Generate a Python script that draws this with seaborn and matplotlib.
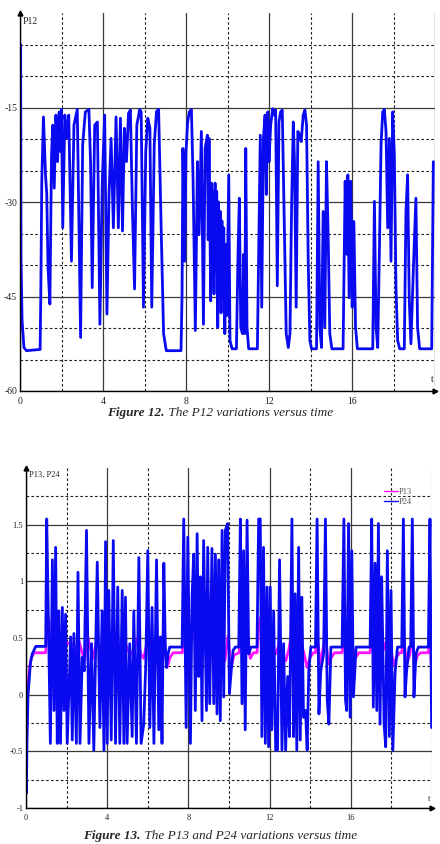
import numpy as np
import pandas as pd
import matplotlib
matplotlib.use("Agg")
import matplotlib.pyplot as plt
import seaborn as sns
from matplotlib.ticker import FixedLocator, FixedFormatter, NullFormatter
from matplotlib.lines import Line2D

sns.set_theme(style="white")
plt.rcParams['font.family'] = ['Liberation Serif', 'DejaVu Serif']
plt.rcParams['axes.unicode_minus'] = False

# ---------------- data ----------------
# P12 versus time: (t, value)
P12_PTS = [
    (0.0, -5), (0.03, -5), (0.05, -39.4), (0.10, -48.8), (0.19, -53.1), (0.31, -53.6),
    (0.97, -53.4), (1.00, -45.4), (1.05, -26.7), (1.13, -16.5), (1.23, -25.7), (1.29, -28.8),
    (1.35, -40.4), (1.44, -46.2), (1.52, -22.5), (1.58, -17.8), (1.65, -27.8), (1.73, -16.2),
    (1.81, -23.6), (1.89, -15.7), (1.95, -22.0), (2.00, -15.3), (2.06, -34.1), (2.16, -16.2),
    (2.26, -19.9), (2.35, -16.2), (2.48, -39.4), (2.60, -17.8), (2.76, -15.3), (2.82, -28.8),
    (2.92, -51.5), (3.02, -20.9), (3.15, -15.7), (3.32, -15.3), (3.40, -23.6), (3.48, -43.6),
    (3.60, -17.8), (3.73, -17.3), (3.85, -49.4), (3.97, -26.2), (4.08, -16.2), (4.19, -47.8),
    (4.29, -28.8), (4.39, -19.9), (4.50, -34.1), (4.63, -16.5), (4.74, -34.1), (4.84, -16.7),
    (4.94, -34.6), (5.03, -18.3), (5.13, -23.6), (5.23, -15.9), (5.32, -15.4), (5.42, -31.5),
    (5.52, -43.8), (5.63, -17.8), (5.77, -15.3), (5.84, -15.7), (5.95, -46.7), (6.06, -22.0),
    (6.16, -16.7), (6.26, -18.3), (6.35, -46.7), (6.47, -20.9), (6.58, -15.6), (6.68, -15.3),
    (6.81, -35.2), (6.92, -50.9), (7.05, -53.6), (7.76, -53.6), (7.81, -44.6), (7.85, -21.5),
    (7.94, -39.4), (8.00, -22.0), (8.08, -17.3), (8.16, -15.7), (8.26, -15.3), (8.34, -26.2),
    (8.45, -50.4), (8.55, -23.6), (8.63, -35.2), (8.74, -18.8), (8.84, -49.4), (8.92, -21.5),
    (9.03, -19.4), (9.07, -36.0), (9.11, -19.9), (9.19, -45.7), (9.23, -27.0), (9.27, -40.0),
    (9.31, -28.3), (9.35, -44.6), (9.40, -27.0), (9.44, -41.0), (9.48, -28.3), (9.53, -49.9),
    (9.57, -30.0), (9.61, -44.0), (9.65, -31.5), (9.69, -47.6), (9.73, -33.0), (9.77, -45.1),
    (9.82, -34.1), (9.87, -50.9), (9.92, -36.7), (9.97, -48.0), (10.01, -38.0), (10.06, -25.7),
    (10.12, -52.0), (10.22, -53.3), (10.43, -53.3), (10.51, -37.8),
    (10.57, -29.4), (10.64, -49.9), (10.72, -50.9), (10.78, -38.3), (10.83, -50.9), (10.88, -21.5),
    (10.94, -49.9), (11.02, -53.3), (11.44, -53.3), (11.52, -34.1), (11.58, -19.4), (11.65, -46.7),
    (11.73, -19.9), (11.81, -16.2), (11.87, -28.8), (11.94, -15.7), (12.00, -23.6), (12.08, -17.8),
    (12.18, -15.2), (12.26, -16.2), (12.32, -15.4), (12.40, -43.3), (12.48, -17.3), (12.56, -15.7),
    (12.64, -15.4), (12.74, -33.6), (12.83, -50.9), (12.93, -53.1), (13.01, -50.9), (13.09, -30.4),
    (13.17, -17.3), (13.23, -23.6), (13.31, -46.7), (13.39, -18.8), (13.47, -19.4), (13.55, -20.4),
    (13.65, -16.2), (13.73, -15.4), (13.81, -17.8), (13.89, -39.4), (13.97, -52.0), (14.05, -53.3),
    (14.29, -53.3), (14.37, -23.6), (14.45, -49.9), (14.53, -53.1), (14.61, -31.5), (14.69, -49.9),
    (14.77, -23.6), (14.85, -35.2), (14.93, -50.9), (15.03, -53.3), (15.57, -53.3), (15.67, -26.7),
    (15.75, -38.3), (15.80, -25.7), (15.86, -45.2), (15.94, -26.7), (16.01, -46.7), (16.09, -33.1),
    (16.17, -49.9), (16.26, -53.3), (17.00, -53.3), (17.08, -29.9), (17.16, -49.9), (17.24, -53.1),
    (17.32, -37.8), (17.40, -20.9), (17.48, -15.7), (17.56, -15.3), (17.64, -18.8), (17.72, -34.1),
    (17.80, -19.9), (17.88, -39.4), (17.96, -15.7), (18.04, -22.5), (18.12, -43.6), (18.20, -52.0),
    (18.30, -53.3), (18.52, -53.3), (18.60, -31.5), (18.68, -25.7), (18.76, -45.7), (18.84, -52.5),
    (18.97, -39.4), (19.08, -29.4), (19.16, -49.9), (19.26, -53.3), (19.84, -53.3), (19.92, -23.6),
]

# P24 versus time: (t, value)
P24_PTS = [
    (0.0, -0.3), (0.02, -0.87), (0.05, -0.4), (0.10, 0.0), (0.15, 0.12), (0.22, 0.28),
    (0.31, 0.36), (0.48, 0.426), (0.97, 0.426), (1.02, 1.55), (1.11, 0.6), (1.20, -0.43),
    (1.30, 1.19), (1.38, -0.14), (1.46, 1.30), (1.54, -0.43), (1.62, 0.74), (1.70, -0.43),
    (1.79, 0.77), (1.87, -0.14), (1.95, 0.71), (2.03, -0.43), (2.20, 0.51), (2.28, -0.40),
    (2.36, 0.54), (2.48, -0.43), (2.56, 1.08), (2.66, -0.43), (2.77, 0.33), (2.87, 0.21),
    (2.98, 1.45), (3.10, -0.43), (3.23, 0.45), (3.34, -0.49), (3.51, 1.17), (3.64, -0.29),
    (3.75, 0.74), (3.84, -0.49), (3.92, 1.35), (4.00, -0.43), (4.08, 0.92), (4.20, -0.40),
    (4.30, 1.36), (4.41, -0.43), (4.52, 0.95), (4.62, -0.43), (4.74, 0.92), (4.82, -0.43),
    (4.90, 0.86), (4.98, -0.43), (5.11, 0.45), (5.23, -0.37), (5.31, 0.74), (5.44, -0.43),
    (5.56, 1.21), (5.67, -0.43), (5.80, -0.26), (5.90, 0.27), (6.00, 1.27), (6.10, -0.29),
    (6.21, 0.77), (6.30, -0.43), (6.43, 1.19), (6.54, -0.31), (6.62, 0.51), (6.70, -0.43),
    (6.79, 1.16), (6.86, 0.45), (6.92, 0.24), (7.00, 0.36), (7.08, 0.42), (7.69, 0.42),
    (7.77, 1.55), (7.89, -0.29), (7.97, 1.39), (8.10, -0.43), (8.18, 0.86), (8.26, 1.24),
    (8.34, -0.14), (8.43, 1.42), (8.51, 0.16), (8.59, 1.04), (8.67, -0.23), (8.75, 1.36),
    (8.89, -0.14), (8.95, 1.30), (9.05, -0.08), (9.16, 1.29), (9.25, -0.08), (9.33, 1.24),
    (9.41, -0.17), (9.49, 1.19), (9.57, -0.23), (9.66, 1.45), (9.74, -0.02), (9.82, 1.45),
    (9.93, 1.51), (10.02, 0.01), (10.11, 0.21), (10.20, 0.39), (10.31, 0.42), (10.48, 0.42),
    (10.56, 1.55), (10.64, -0.08), (10.72, 1.27), (10.80, -0.31), (10.89, 1.54), (10.97, 0.36),
    (11.08, 0.42), (11.38, 0.42), (11.46, 1.55), (11.54, 1.55), (11.62, -0.37), (11.70, 1.30),
    (11.79, -0.43), (11.87, 0.95), (11.95, -0.46), (12.03, 0.95), (12.11, -0.31), (12.20, 0.74),
    (12.30, -0.49), (12.39, -0.49), (12.49, 1.19), (12.61, -0.49), (12.69, 0.45), (12.79, -0.49),
    (12.89, 0.16), (12.98, -0.37), (13.10, 1.55), (13.18, -0.37), (13.26, 0.89), (13.34, -0.49),
    (13.43, 1.30), (13.51, -0.40), (13.59, 0.86), (13.67, -0.20), (13.77, -0.14), (13.85, -0.49),
    (13.93, 0.21), (14.03, 0.42), (14.26, 0.42), (14.34, 1.55), (14.43, -0.17), (14.52, 0.21),
    (14.66, 0.36), (14.75, 1.55), (14.84, -0.05), (14.92, -0.26), (15.02, 0.42), (15.57, 0.42),
    (15.66, 1.55), (15.74, -0.05), (15.80, -0.14), (15.89, 1.51), (15.97, -0.20), (16.05, 1.27),
    (16.13, -0.02), (16.26, 0.42), (16.95, 0.42), (17.03, 1.55), (17.11, -0.11), (17.20, 1.16),
    (17.28, -0.14), (17.36, 1.51), (17.44, -0.26), (17.52, 1.04), (17.64, -0.26), (17.72, -0.46),
    (17.80, 1.27), (17.90, -0.37), (17.98, 0.92), (18.07, -0.49), (18.18, 0.19), (18.30, 0.42),
    (18.51, 0.42), (18.59, 1.55), (18.67, -0.02), (18.75, 0.21), (18.87, 0.42), (18.95, 0.42),
    (19.03, 1.55), (19.11, -0.02), (19.21, 0.36), (19.33, 0.42), (19.82, 0.42), (19.90, 1.55),
    (19.98, -0.29),
]

# P13 versus time: (t, value)
P13_PTS = [
    (0.0, -0.1), (0.02, -0.38), (0.08, 0.0), (0.15, 0.2), (0.25, 0.32), (0.40, 0.37),
    (0.97, 0.37), (1.02, 0.55), (1.12, 0.66), (1.20, 0.35), (1.30, 0.50), (1.40, 0.38),
    (1.50, 0.52), (1.62, 0.45), (1.75, 0.48), (1.90, 0.42), (2.05, 0.46), (2.20, 0.44),
    (2.36, 0.45), (2.50, 0.36), (2.60, 0.48), (2.75, 0.38), (2.90, 0.30), (3.00, 0.55),
    (3.15, 0.42), (3.30, 0.32), (3.50, 0.50), (3.65, 0.36), (3.80, 0.42), (3.95, 0.56),
    (4.10, 0.40), (4.30, 0.55), (4.45, 0.42), (4.60, 0.46), (4.75, 0.42), (4.90, 0.45),
    (5.05, 0.38), (5.20, 0.36), (5.35, 0.42), (5.50, 0.50), (5.65, 0.36), (5.80, 0.32),
    (6.00, 0.50), (6.15, 0.40), (6.30, 0.36), (6.45, 0.50), (6.60, 0.40), (6.80, 0.46),
    (6.95, 0.24), (7.10, 0.33), (7.25, 0.37), (7.70, 0.37), (7.77, 0.60), (7.90, 0.45),
    (8.10, 0.48), (8.30, 0.50), (8.45, 0.52), (8.60, 0.45), (8.75, 0.54), (8.90, 0.42),
    (9.05, 0.48), (9.20, 0.38), (9.35, 0.46), (9.50, 0.34), (9.65, 0.46), (9.80, 0.30),
    (9.95, 0.52), (10.10, 0.24), (10.25, 0.35), (10.50, 0.37), (10.56, 0.55), (10.70, 0.45),
    (10.90, 0.50), (11.05, 0.32), (11.20, 0.37), (11.38, 0.37), (11.46, 0.58), (11.55, 0.68),
    (11.70, 0.58), (11.85, 0.52), (12.00, 0.48), (12.15, 0.42), (12.30, 0.36), (12.50, 0.46),
    (12.65, 0.32), (12.80, 0.30), (12.95, 0.40), (13.10, 0.56), (13.25, 0.52), (13.40, 0.45),
    (13.55, 0.46), (13.70, 0.36), (13.85, 0.24), (14.00, 0.33), (14.15, 0.37), (14.26, 0.37),
    (14.34, 0.52), (14.50, 0.27), (14.75, 0.52), (14.90, 0.27), (15.05, 0.33), (15.20, 0.37),
    (15.57, 0.37), (15.66, 0.52), (15.80, 0.36), (15.95, 0.52), (16.10, 0.30), (16.25, 0.33),
    (16.40, 0.37), (16.95, 0.37), (17.03, 0.56), (17.20, 0.48), (17.36, 0.58), (17.50, 0.52),
    (17.65, 0.40), (17.80, 0.52), (17.95, 0.44), (18.10, 0.26), (18.25, 0.33), (18.40, 0.37),
    (18.51, 0.37), (18.59, 0.52), (18.75, 0.27), (18.90, 0.35), (19.03, 0.52), (19.15, 0.27),
    (19.30, 0.35), (19.45, 0.37), (19.82, 0.37), (19.90, 0.52), (19.98, 0.22),
]

TOP_X_MAJOR = [0, 4, 8, 12, 16, 20]
TOP_X_LABELS = ['0', '4', '8', '12', '16', '']
TOP_X_MINOR = [2, 6, 10, 14, 18]
TOP_Y_MAJOR = [-60, -45, -30, -15]
TOP_Y_LABELS = ['-60', '-45', '-30', '-15']
TOP_Y_MINOR = [-55, -50, -40, -35, -25, -20, -10, -5]

BOT_X_MAJOR = [0, 4, 8, 12, 16]
BOT_X_LABELS = ['0', '4', '8', '12', '16']
BOT_X_MINOR = [2, 6, 10, 14, 18, 20]
BOT_Y_MAJOR = [-1, -0.5, 0, 0.5, 1, 1.5]
BOT_Y_LABELS = ['-1', '-0.5', '0', '0.5', '1', '1.5']
BOT_Y_MINOR = [-0.75, -0.25, 0.25, 0.75, 1.25, 1.75]

BLUE = '#0a0af0'
MAGENTA = '#ff14ff'

# ---------------- figure ----------------
W, H = 440, 844
fig = plt.figure(figsize=(W / 100, H / 100), dpi=100)
fig.patch.set_facecolor('white')

ax1 = fig.add_axes([20 / W, 1 - 391 / H, 415 / W, 378 / H])
ax2 = fig.add_axes([26 / W, 1 - 808 / H, 406 / W, 340 / H])


def style(ax, xmaj, xlab, xmin, ymaj, ylab, ymin, xlim, ylim, fs):
    ax.set_facecolor('white')
    ax.set_xlim(*xlim)
    ax.set_ylim(*ylim)
    ax.xaxis.set_major_locator(FixedLocator(xmaj))
    ax.xaxis.set_major_formatter(FixedFormatter(xlab))
    ax.xaxis.set_minor_locator(FixedLocator(xmin))
    ax.xaxis.set_minor_formatter(NullFormatter())
    ax.yaxis.set_major_locator(FixedLocator(ymaj))
    ax.yaxis.set_major_formatter(FixedFormatter(ylab))
    ax.yaxis.set_minor_locator(FixedLocator(ymin))
    ax.yaxis.set_minor_formatter(NullFormatter())
    ax.set_axisbelow(True)
    ax.grid(which='major', color='#3a3a3a', lw=0.9, ls='-')
    ax.grid(which='minor', color='#222222', lw=0.8, ls=(0, (2.4, 2.0)))
    ax.tick_params(which='both', length=0, labelsize=fs, colors='#222222')
    ax.tick_params(axis='x', pad=4)
    ax.tick_params(axis='y', pad=2)
    for s in ['top', 'right']:
        ax.spines[s].set_visible(False)
    for s in ['left', 'bottom']:
        ax.spines[s].set_visible(True)
        ax.spines[s].set_color('black')
        ax.spines[s].set_linewidth(1.0)
    ax.set_xlabel('')
    ax.set_ylabel('')
    ax.plot(0, 1, marker='^', color='black', ms=3.5, transform=ax.transAxes, clip_on=False)
    ax.plot(1, 0, marker='>', color='black', ms=3.5, transform=ax.transAxes, clip_on=False)


# top chart
df12 = pd.DataFrame(P12_PTS, columns=['t', 'P12'])
sns.lineplot(data=df12, x='t', y='P12', ax=ax1, color=BLUE, lw=2.0,
             estimator=None, sort=False, legend=False)
style(ax1, TOP_X_MAJOR, TOP_X_LABELS, TOP_X_MINOR, TOP_Y_MAJOR, TOP_Y_LABELS,
      TOP_Y_MINOR, (0, 20), (-60, 0), 7)

# bottom chart
df13 = pd.DataFrame(P13_PTS, columns=['t', 'value'])
df13['series'] = 'P13'
df24 = pd.DataFrame(P24_PTS, columns=['t', 'value'])
df24['series'] = 'P24'
dfb = pd.concat([df13, df24], ignore_index=True)
sns.lineplot(data=dfb, x='t', y='value', hue='series', units='series',
             palette={'P13': MAGENTA, 'P24': BLUE}, ax=ax2, lw=2.0,
             estimator=None, sort=False, legend=False)
style(ax2, BOT_X_MAJOR, BOT_X_LABELS, BOT_X_MINOR, BOT_Y_MAJOR, BOT_Y_LABELS,
      BOT_Y_MINOR, (0, 20), (-1, 2), 6)

handles = [Line2D([], [], color=MAGENTA, lw=1.0), Line2D([], [], color=BLUE, lw=1.0)]
leg = fig.legend(handles, ['P13', 'P24'], loc='upper left',
                 bbox_to_anchor=(380 / W, 1 - 484 / H), frameon=False,
                 fontsize=6, handlelength=1.6, handletextpad=0.2,
                 labelspacing=0.25, borderpad=0)
for t in leg.get_texts():
    t.set_color('#555555')

# axis names
fig.text(23 / W, 1 - 21 / H, 'P12', fontsize=7, ha='left', va='center', color='#222222')
fig.text(432 / W, 1 - 380 / H, 't', fontsize=7, ha='center', va='center', color='#222222')
fig.text(29 / W, 1 - 475 / H, 'P13, P24', fontsize=6, ha='left', va='center', color='#222222')
fig.text(429 / W, 1 - 799 / H, 't', fontsize=6, ha='center', va='center', color='#222222')


def caption(y_px, bold_part, rest):
    renderer = fig.canvas.get_renderer()
    t1 = fig.text(0, 1 - y_px / H, bold_part, fontsize=9.5, style='italic',
                  weight='bold', ha='left', va='center')
    t2 = fig.text(0, 1 - y_px / H, rest, fontsize=9.5, style='italic',
                  ha='left', va='center')
    w1 = t1.get_window_extent(renderer).width
    w2 = t2.get_window_extent(renderer).width
    x0 = (W - (w1 + w2)) / 2
    t1.set_x(x0 / W)
    t2.set_x((x0 + w1) / W)


caption(413, 'Figure 12.', ' The P12 variations versus time')
caption(836, 'Figure 13.', ' The P13 and P24 variations versus time')

fig.savefig('out.png', dpi=100, facecolor='white')
